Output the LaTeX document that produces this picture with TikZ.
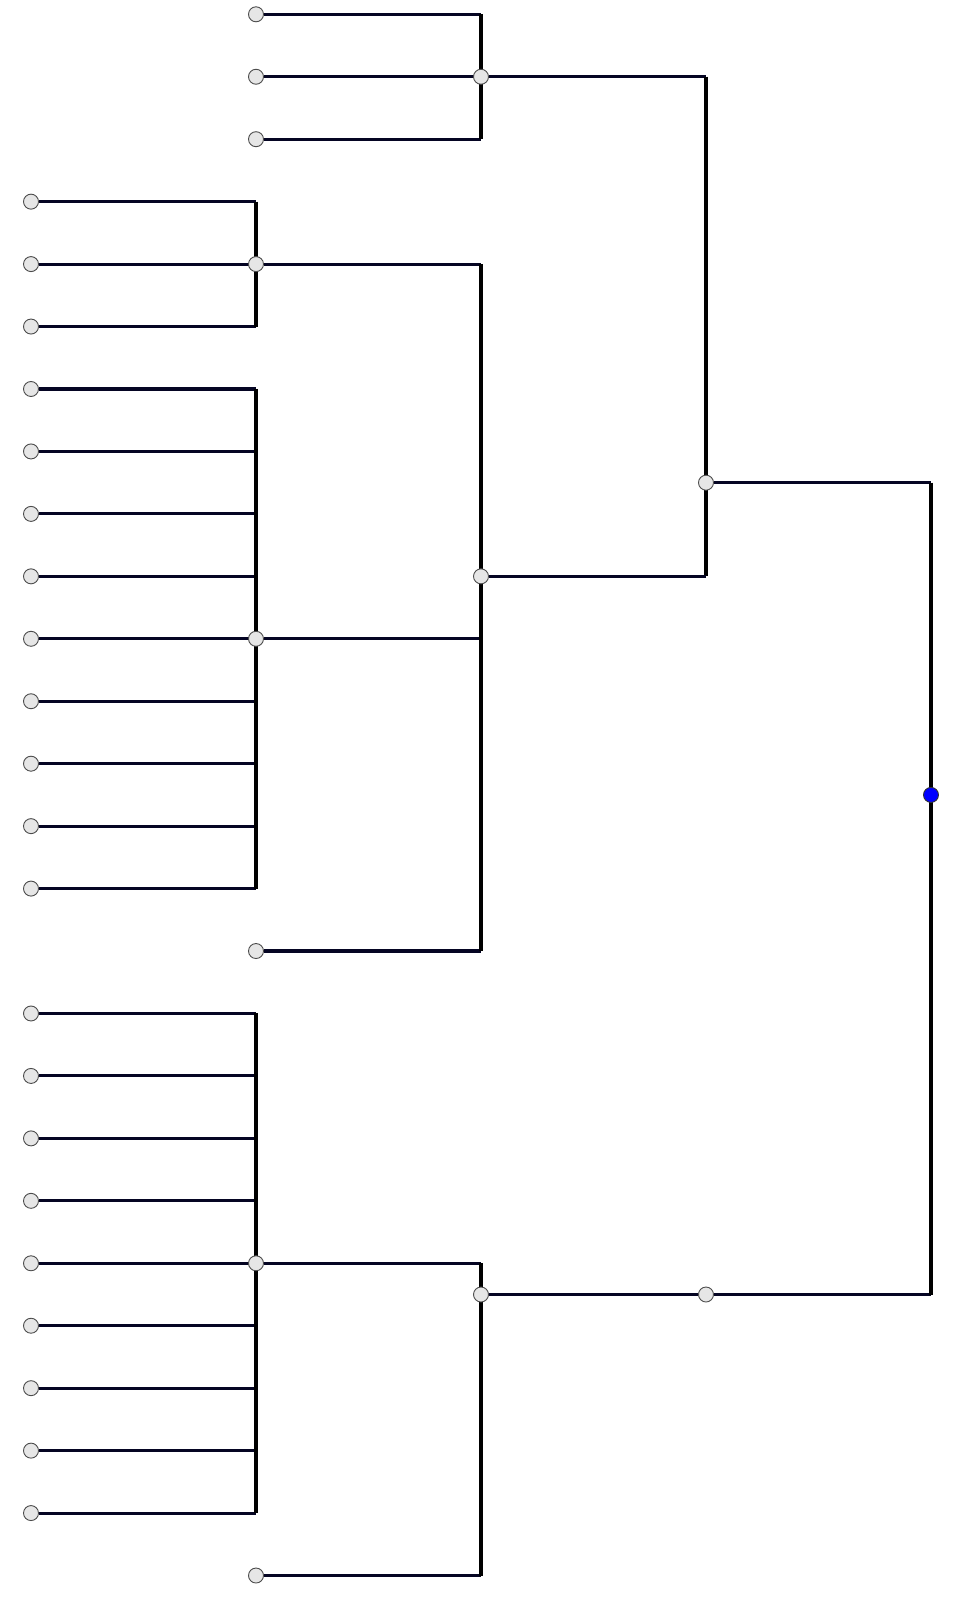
\documentclass[tikz,border=0pt]{standalone}
\usetikzlibrary{backgrounds}
\definecolor{navyline}{RGB}{5,5,35}
\definecolor{tipgray}{RGB}{230,230,230}
\definecolor{rootblue}{RGB}{0,0,255}
\tikzset{
  tip/.style={circle, draw=black!70, fill=tipgray, line width=0.9pt, inner sep=0pt, minimum size=15pt},
  rootnode/.style={tip, fill=rootblue, draw=black!80},
  hline/.style={navyline, line width=3.1pt},
  vline/.style={black, line width=3.2pt}
}
\begin{document}
\begin{tikzpicture}[x=225pt, y=-62.45pt]
  % Page size and margins of the original
  \useasboundingbox (-0.1378,-0.229) rectangle (4.151,25.36);
  % Top group of three
  \foreach \r in {0,1,2} \node[tip] (a\r) at (1,\r) {};
  \node[tip] (ja) at (2,1) {};
  % Group of three
  \foreach \r in {3,4,5} \node[tip] (b\r) at (0,\r) {};
  \node[tip] (jb) at (1,4) {};
  % Group of nine
  \foreach \r in {6,...,14} \node[tip] (c\r) at (0,\r) {};
  \node[tip] (jc) at (1,10) {};
  \node[tip] (e15) at (1,15) {};
  \node[tip] (jbc) at (2,9) {};
  \node[tip] (jabc) at (3,7.5) {};
  % Lower group of nine
  \foreach \r in {16,...,24} \node[tip] (d\r) at (0,\r) {};
  \node[tip] (jd) at (1,20) {};
  \node[tip] (e25) at (1,25) {};
  \node[tip] (jde) at (2,20.5) {};
  \node[tip] (mid) at (3,20.5) {};
  % Root
  \node[rootnode] (root) at (4,12.5) {};
  \begin{scope}[on background layer]
    % Top group
    \foreach \r in {0,1,2} \draw[hline] (a\r) -- (a\r -| ja);
    \draw[vline] (a0 -| ja) -- (a2 -| ja);
    \draw[hline] (ja) -- (ja -| jabc);
    \draw[vline] (ja -| jabc) -- (jbc -| jabc);
    \draw[hline] (jbc) -- (jbc -| jabc);
    % Three and nine
    \foreach \r in {3,4,5} \draw[hline] (b\r) -- (b\r -| jb);
    \draw[vline] (b3 -| jb) -- (b5 -| jb);
    \draw[hline] (jb) -- (jb -| jbc);
    \foreach \r in {6,...,14} \draw[hline] (c\r) -- (c\r -| jc);
    \draw[vline] (c6 -| jc) -- (c14 -| jc);
    \draw[hline] (jc) -- (jc -| jbc);
    \draw[hline] (e15) -- (e15 -| jbc);
    \draw[vline] (jb -| jbc) -- (e15 -| jbc);
    % Lower group
    \foreach \r in {16,...,24} \draw[hline] (d\r) -- (d\r -| jd);
    \draw[vline] (d16 -| jd) -- (d24 -| jd);
    \draw[hline] (jd) -- (jd -| jde);
    \draw[hline] (e25) -- (e25 -| jde);
    \draw[vline] (jd -| jde) -- (e25 -| jde);
    \draw[hline] (jde) -- (mid);
    \draw[hline] (mid) -- (mid -| root);
    % Root branch
    \draw[hline] (jabc) -- (jabc -| root);
    \draw[vline] (jabc -| root) -- (mid -| root);
  \end{scope}
\end{tikzpicture}
\end{document}
